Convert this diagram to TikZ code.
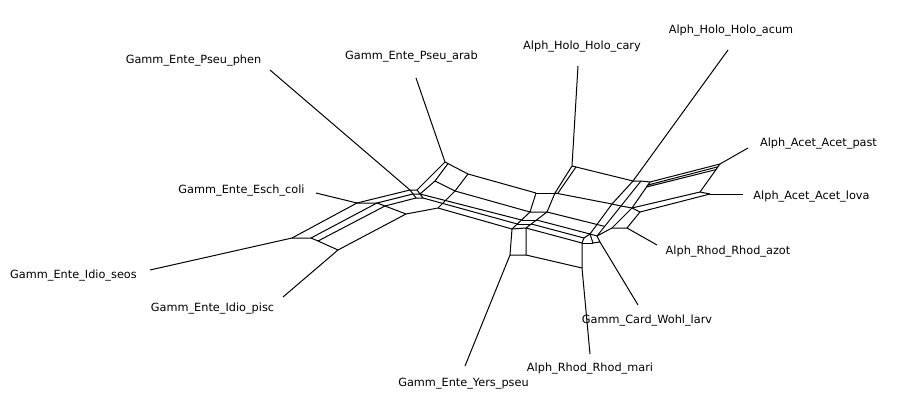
\documentclass[tikz,border=0pt]{standalone}
\usepackage{fontspec}
\setmainfont{DejaVu Sans}
\begin{document}
\begin{tikzpicture}[x=1pt,y=-1pt,
  net/.style={line width=1pt,line join=round,black},
  lab/.style={font=\fontsize{11.3}{13}\selectfont,anchor=mid,inner sep=0pt}]
\fill[white] (0,0) rectangle (900,415);
\useasboundingbox (0,0) rectangle (900,415);
% ---- network vertices ----
\coordinate (A1) at (357,203); \coordinate (A2) at (377,203);
\coordinate (A3) at (385,206); \coordinate (A4) at (406,214);
\coordinate (B1) at (292,238); \coordinate (B2) at (311,238);
\coordinate (B3) at (318,241); \coordinate (B4) at (338,250);
\coordinate (C1) at (410,190); \coordinate (C2) at (417,190);
\coordinate (C3) at (420,194); \coordinate (C4) at (413,194);
\coordinate (C5) at (416,198); \coordinate (C6) at (423,198);
\coordinate (P1) at (445,162); \coordinate (P1b) at (448,163.6);
\coordinate (P2) at (468,174); \coordinate (Q1) at (435,181);
\coordinate (P3) at (455,191); \coordinate (D0) at (438,208);
\coordinate (S1) at (536,193); \coordinate (S2) at (555,193);
\coordinate (S2b) at (558,193); \coordinate (S3) at (547,212);
\coordinate (S4) at (530,212);
\coordinate (T1) at (521.5,220); \coordinate (T1b) at (517.3,224);
\coordinate (T2) at (536.5,220); \coordinate (T2b) at (531.3,224);
\coordinate (Y1) at (512,229); \coordinate (Y2) at (526,228);
\coordinate (Y3) at (526,255); \coordinate (Y4) at (510,255);
\coordinate (N1) at (584,238); \coordinate (N2) at (582,243);
\coordinate (N3) at (582,268);
\coordinate (M1) at (590,234); \coordinate (M2) at (597,236);
\coordinate (M3) at (600,242); \coordinate (M4) at (593,243);
\coordinate (Z0) at (604.7,226.4); \coordinate (Z1) at (612,228);
\coordinate (Z2) at (627,228);
\coordinate (K1) at (572,166); \coordinate (K1b) at (576,167);
\coordinate (K2) at (633,181); \coordinate (K3) at (641,181);
\coordinate (K4) at (650,182); \coordinate (K4b) at (647.9,185);
\coordinate (K4c) at (646.5,187);
\coordinate (X1) at (612,204); \coordinate (X2) at (621,206);
\coordinate (X3) at (632,208); \coordinate (X4) at (640,212);
\coordinate (AC1) at (720,164); \coordinate (AC1b) at (718,166.8);
\coordinate (AC1c) at (716,169.6); \coordinate (AC2) at (700,192);
\coordinate (AC3) at (710,194);
% ---- leaf line ends ----
\coordinate (ephen) at (270,70);  \coordinate (earab) at (416,78);
\coordinate (ecary) at (578,66);  \coordinate (eacum) at (728,50);
\coordinate (epast) at (748,148); \coordinate (elova) at (743,194);
\coordinate (eazot) at (657,245); \coordinate (elarv) at (638,305);
\coordinate (emari) at (590,354); \coordinate (eyers) at (465,366);
\coordinate (episc) at (283,297); \coordinate (eseos) at (150,270);
\coordinate (ecoli) at (316,193);
% ---- labels ----
\node[lab] (nphen) at (193.5,61) {Gamm\_Ente\_Pseu\_phen};
\node[lab] (narab) at (411.5,57) {Gamm\_Ente\_Pseu\_arab};
\node[lab] (ncary) at (582,47) {Alph\_Holo\_Holo\_cary};
\node[lab] (nacum) at (731,31) {Alph\_Holo\_Holo\_acum};
\node[lab] (npast) at (818.5,144) {Alph\_Acet\_Acet\_past};
\node[lab] (nlova) at (811.5,197) {Alph\_Acet\_Acet\_lova};
\node[lab] (nazot) at (728,252) {Alph\_Rhod\_Rhod\_azot};
\node[lab] (nlarv) at (647,321) {Gamm\_Card\_Wohl\_larv};
\node[lab] (nmari) at (590,369) {Alph\_Rhod\_Rhod\_mari};
\node[lab] (nyers) at (463.5,384) {Gamm\_Ente\_Yers\_pseu};
\node[lab] (npisc) at (212.5,309) {Gamm\_Ente\_Idio\_pisc};
\node[lab] (nseos) at (73.5,276) {Gamm\_Ente\_Idio\_seos};
\node[lab] (ncoli) at (241.5,191) {Gamm\_Ente\_Esch\_coli};
% ---- leaf edges ----
\draw[net] (ephen) -- (C1);
\draw[net] (earab) -- (P1);
\draw[net] (ecary) -- (K1);
\draw[net] (eacum) -- (K2);
\draw[net] (epast) -- (AC1);
\draw[net] (elova) -- (AC3);
\draw[net] (eazot) -- (Z2);
\draw[net] (elarv) -- (M3);
\draw[net] (emari) -- (N3);
\draw[net] (eyers) -- (Y4);
\draw[net] (episc) -- (B4);
\draw[net] (eseos) -- (B1);
\draw[net] (ecoli) -- (A1);
% ---- left block ----
\draw[net] (A1) -- (A2) -- (A3) -- (A4);
\draw[net] (B1) -- (B2) -- (B3) -- (B4);
\draw[net] (A1) -- (B1) (A2) -- (B2) (A3) -- (B3) (A4) -- (B4);
\draw[net] (A1) -- (C1) (A2) -- (C4) (A3) -- (C5);
% ---- central-left cluster ----
\draw[net] (C1) -- (C2) -- (C3) -- (C4) -- cycle;
\draw[net] (C4) -- (C5) -- (C6) -- (C3);
\draw[net] (C2) -- (P1);
\draw[net] (C3) -- (Q1) -- (P1b);
\draw[net] (P1) -- (P1b) -- (P2);
\draw[net] (Q1) -- (P3) -- (P2);
\draw[net] (A4) -- (D0) -- (P3);
% ---- long bands ----
\draw[net] (P2) -- (S1);
\draw[net] (P3) -- (S4);
\draw[net] (C3) -- (T1);
\draw[net] (C6) -- (T1b);
\draw[net] (D0) -- (Y1);
% ---- upper small box ----
\draw[net] (S1) -- (S2b);
\draw[net] (S2) -- (S3) -- (S4) -- (S1);
\draw[net] (S4) -- (Y1);
\draw[net] (S3) -- (Y2);
\draw[net] (T1) -- (T2) (T1b) -- (T2b);
\draw[net] (S2) -- (K1) (S2b) -- (K1b);
% ---- Yers / Mari boxes ----
\draw[net] (Y1) -- (Y2) -- (Y3) -- (Y4) -- cycle;
\draw[net] (Y2) -- (N2) -- (N3) -- (Y3);
\draw[net] (T2) -- (M1) (T2b) -- (N1);
\draw[net] (N2) -- (N1) -- (M1);
\draw[net] (N2) -- (M4);
\draw[net] (M1) -- (M2) -- (M3) -- (M4) -- cycle;
\draw[net] (S3) -- (Z0);
\draw[net] (M2) -- (Z1) -- (Z2);
% ---- upper right ----
\draw[net] (K1) -- (K2) -- (K3) -- (K4);
\draw[net] (K2) -- (X1) -- (M1);
\draw[net] (K3) -- (X2) -- (M2);
\draw[net] (K4) -- (X3) -- (Z1);
\draw[net] (X3) -- (X4) -- (Z2);
\draw[net] (S2) -- (X1) -- (X2) -- (X3) -- (AC2);
\draw[net] (X4) -- (AC3);
\draw[net] (AC2) -- (AC3);
\draw[net] (AC1) -- (AC2);
\draw[net] (K4) -- (AC1) (K4b) -- (AC1b) (K4c) -- (AC1c);
\end{tikzpicture}
\end{document}
